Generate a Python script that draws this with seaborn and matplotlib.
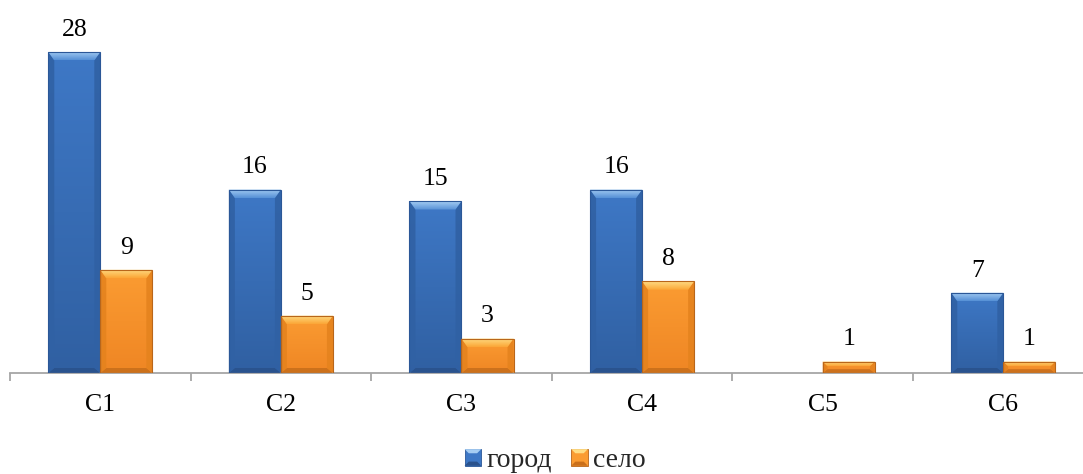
import matplotlib
matplotlib.use("Agg")
import matplotlib.pyplot as plt
import seaborn as sns
import pandas as pd
import numpy as np
from matplotlib.patches import Polygon, Rectangle
from matplotlib.colors import to_rgb
from matplotlib.legend_handler import HandlerPatch

categories = ["C1", "C2", "C3", "C4", "C5", "C6"]
city = [28, 16, 15, 16, 0, 7]
village = [9, 5, 3, 8, 1, 1]
series_names = ["город", "село"]

df = pd.DataFrame({
    "cat": categories * 2,
    "val": city + village,
    "grp": [series_names[0]] * len(categories) + [series_names[1]] * len(categories),
})

# body top/bottom, top bevel light/dark, bottom bevel, side bevel, outline
shades = {
    series_names[0]: dict(body=("#3e78c6", "#3060a2"), top=("#a6cdf3", "#5590d6"),
                          bottom="#2a528c", side="#3061a4", edge="#2b5797"),
    series_names[1]: dict(body=("#fb9c32", "#ef8624"), top=("#ffdd85", "#fba636"),
                          bottom="#c96f1b", side="#e5831e", edge="#b9661a"),
}

sns.set_theme(style="white")
plt.rcParams["font.family"] = ["Liberation Serif", "DejaVu Serif"]
FS = 18.5
FS_LEG = 20

W, H = 1083, 474
fig = plt.figure(figsize=(W / 100, H / 100), dpi=100)
ax = fig.add_axes([10 / W, 101 / H, 1083.6 / W, 363 / H])

sns.barplot(data=df, x="cat", y="val", hue="grp", order=categories,
            hue_order=series_names, palette=[shades[n]["body"][0] for n in series_names],
            width=0.576, gap=0, saturation=1, linewidth=0, legend=False, ax=ax)

ax.set_xlim(-0.5, len(categories) - 0.5)
ax.set_ylim(0, 31.66)
ax.set_xlabel("")
ax.set_ylabel("")
ax.set_yticks([])
for side in ("left", "top", "right"):
    ax.spines[side].set_visible(False)
ax.spines["bottom"].set_color("#a6a6a6")
ax.spines["bottom"].set_linewidth(1.3)

ax.set_xticks(range(len(categories)))
ax.set_xticklabels(categories, fontsize=FS, color="black")
ax.tick_params(axis="x", which="major", length=0, pad=15)
ax.set_xticks([i - 0.5 for i in range(len(categories) + 1)], minor=True)
ax.tick_params(axis="x", which="minor", length=6, width=1.3, color="#a6a6a6",
               direction="out", bottom=True)


def gradient(ax, pts_data, c_top, c_bot, zorder):
    """Fill a polygon with a vertical gradient from c_top to c_bot."""
    pts = np.asarray(pts_data)
    xmin, xmax = pts[:, 0].min(), pts[:, 0].max()
    ymin, ymax = pts[:, 1].min(), pts[:, 1].max()
    t = np.linspace(0, 1, 64)[:, None]
    img = (1 - t) * np.array(to_rgb(c_top)) + t * np.array(to_rgb(c_bot))
    img = img[:, None, :]
    poly = Polygon(pts, closed=True, facecolor="none", edgecolor="none")
    ax.add_patch(poly)
    im = ax.imshow(img, extent=(xmin, xmax, ymin, ymax), origin="upper",
                   aspect="auto", interpolation="bilinear", zorder=zorder)
    im.set_clip_path(poly)


# value labels and bevel shading over each bar
fig.canvas.draw()
to_data = ax.transData.inverted()
for container, name in zip(ax.containers, series_names):
    s = shades[name]
    vals = [p.get_height() for p in container.patches]
    ax.bar_label(container, labels=[f"{v:g}" if v > 0 else "" for v in vals],
                 padding=8, fontsize=FS, color="black")
    for p in container.patches:
        h = p.get_height()
        if h <= 0:
            continue
        (x0, y0), (x1, y1) = ax.transData.transform(
            [(p.get_x(), 0), (p.get_x() + p.get_width(), h)])
        bt = min(8.5, (y1 - y0) / 2.4, (x1 - x0) / 2.4)
        bs = min(6.0, (y1 - y0) / 2.4)
        bb = min(5.0, (y1 - y0) / 3.0)
        body = [(x0, y0), (x1, y0), (x1, y1), (x0, y1)]
        gradient(ax, to_data.transform(body), s["body"][0], s["body"][1], 2.5)
        top = [(x0, y1), (x1, y1), (x1 - bs, y1 - bt), (x0 + bs, y1 - bt)]
        gradient(ax, to_data.transform(top), s["top"][0], s["top"][1], 3.2)
        polys = [
            ([(x0, y0), (x1, y0), (x1 - bs, y0 + bb), (x0 + bs, y0 + bb)], s["bottom"]),
            ([(x0, y0), (x0 + bs, y0 + bb), (x0 + bs, y1 - bt), (x0, y1)], s["side"]),
            ([(x1, y0), (x1 - bs, y0 + bb), (x1 - bs, y1 - bt), (x1, y1)], s["side"]),
        ]
        for pts, col in polys:
            ax.add_patch(Polygon(to_data.transform(pts), closed=True,
                                 facecolor=col, edgecolor="none", alpha=0.9, zorder=3))
        ax.add_patch(Rectangle((p.get_x(), 0), p.get_width(), h, fill=False,
                               edgecolor=s["edge"], linewidth=0.8, zorder=4))


class BevelSquare(HandlerPatch):
    def create_artists(self, legend, orig_handle, xdescent, ydescent,
                       width, height, fontsize, trans):
        s = orig_handle._bevel
        side = min(width, height)
        x0 = -xdescent + (width - side) / 2
        y0 = -ydescent + (height - side) / 2
        x1, y1 = x0 + side, y0 + side
        b = side * 0.25
        arts = [Rectangle((x0, y0), side, side, facecolor=s["body"][0],
                          edgecolor=s["edge"], lw=0.6)]
        for pts, col in [
            ([(x0, y1), (x1, y1), (x1 - b, y1 - b), (x0 + b, y1 - b)], s["top"][0]),
            ([(x0, y0), (x1, y0), (x1 - b, y0 + b), (x0 + b, y0 + b)], s["bottom"]),
        ]:
            arts.append(Polygon(pts, closed=True, facecolor=col, edgecolor="none"))
        for a in arts:
            a.set_transform(trans)
        return arts


handles = []
for name in series_names:
    r = Rectangle((0, 0), 1, 1, facecolor=shades[name]["body"][0])
    r._bevel = shades[name]
    handles.append(r)

fig.legend(handles, series_names, loc="center", bbox_to_anchor=(0.5125, 0.028),
           ncol=2, frameon=False, fontsize=FS_LEG, handlelength=0.6, handleheight=0.6,
           handletextpad=0.18, columnspacing=0.7, borderpad=0, borderaxespad=0,
           handler_map={Rectangle: BevelSquare()})

fig.savefig("out.png", dpi=100)
